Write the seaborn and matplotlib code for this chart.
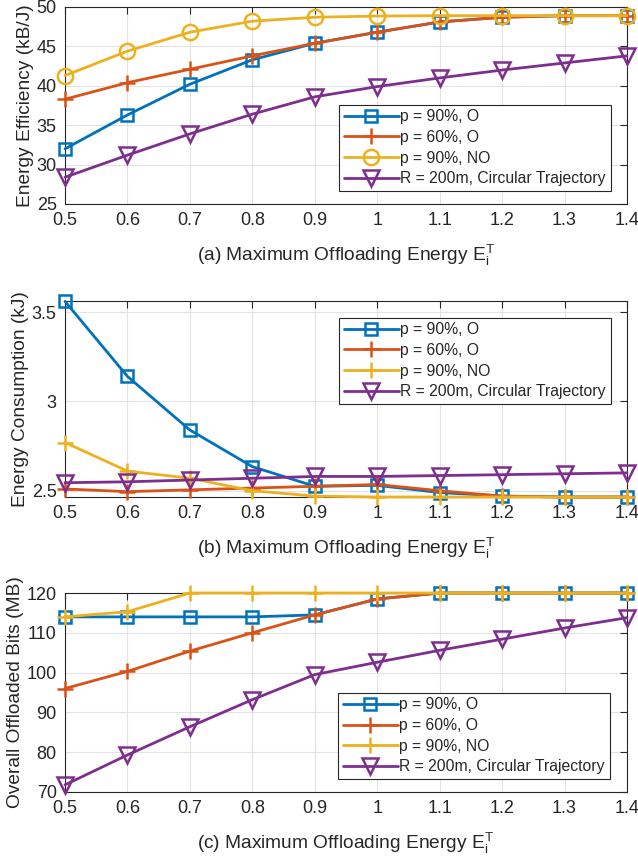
import numpy as np
import pandas as pd
import matplotlib
matplotlib.use("Agg")
import matplotlib.pyplot as plt
import seaborn as sns

x_vals = [0.5, 0.6, 0.7, 0.8, 0.9, 1.0, 1.1, 1.2, 1.3, 1.4]
labels = ["p = 90%, O", "p = 60%, O", "p = 90%, NO", "R = 200m, Circular Trajectory"]

# (a) Energy efficiency (kB/J)
eff_p90_o = [32.0, 36.3, 40.2, 43.3, 45.4, 46.8, 48.1, 48.7, 48.9, 48.9]
eff_p60_o = [38.3, 40.4, 42.1, 43.8, 45.4, 46.8, 48.1, 48.7, 48.9, 48.9]
eff_p90_no = [41.3, 44.4, 46.8, 48.2, 48.7, 48.85, 48.9, 48.9, 48.9, 48.9]
eff_circ = [28.4, 31.2, 33.9, 36.4, 38.6, 39.9, 41.0, 42.0, 42.9, 43.8]

# (b) Energy consumption (kJ)
con_p90_o = [3.56, 3.14, 2.84, 2.635, 2.525, 2.53, 2.49, 2.47, 2.465, 2.465]
con_p60_o = [2.51, 2.495, 2.505, 2.515, 2.525, 2.535, 2.50, 2.47, 2.465, 2.465]
con_p90_no = [2.77, 2.61, 2.57, 2.50, 2.47, 2.465, 2.465, 2.465, 2.465, 2.465]
con_circ = [2.545, 2.55, 2.56, 2.57, 2.58, 2.58, 2.585, 2.59, 2.595, 2.60]

# (c) Overall offloaded bits (MB)
bits_p90_o = [114.0, 114.0, 114.0, 114.0, 114.5, 118.5, 120.0, 120.0, 120.0, 120.0]
bits_p60_o = [96.0, 100.3, 105.4, 110.0, 114.5, 118.5, 120.0, 120.0, 120.0, 120.0]
bits_p90_no = [114.0, 115.3, 120.0, 120.0, 120.0, 120.0, 120.0, 120.0, 120.0, 120.0]
bits_circ = [71.8, 79.3, 86.4, 93.2, 99.5, 102.6, 105.6, 108.4, 111.2, 113.8]

sns.set_style("white")
plt.rcParams['font.family'] = ['Liberation Sans', 'DejaVu Sans']
plt.rcParams['mathtext.default'] = 'regular'

colors = ["#0072BD", "#D95319", "#EDB120", "#7E2F8E"]

fig = plt.figure(figsize=(6.38, 8.58), dpi=100)
W = 627 - 65
pos = [
    (65, 7, 204),
    (65, 301, 497),
    (65, 593, 792),
]
axes = []
for (l, t, b) in pos:
    axes.append(fig.add_axes([l / 638, 1 - b / 858, W / 638, (b - t) / 858]))

panels = [
    dict(data=[eff_p90_o, eff_p60_o, eff_p90_no, eff_circ], markers=["s", "+", "o", "v"],
         ylabel="Energy Efficiency (kB/J)", ylim=(25, 50), yticks=[25, 30, 35, 40, 45, 50],
         yticklabels=["25", "30", "35", "40", "45", "50"], tag="(a)", legloc=(0.488, 0.066)),
    dict(data=[con_p90_o, con_p60_o, con_p90_no, con_circ], markers=["s", "+", "+", "v"],
         ylabel="Energy Consumption (kJ)", ylim=(2.465, 3.562), yticks=[2.5, 3.0, 3.5],
         yticklabels=["2.5", "3", "3.5"], tag="(b)", legloc=(0.488, 0.475)),
    dict(data=[bits_p90_o, bits_p60_o, bits_p90_no, bits_circ], markers=["s", "+", "+", "v"],
         ylabel="Overall Offloaded Bits (MB)", ylim=(70, 120), yticks=[70, 80, 90, 100, 110, 120],
         yticklabels=["70", "80", "90", "100", "110", "120"], tag="(c)", legloc=(0.486, 0.065)),
]

msizes = {"s": 8, "+": 11, "o": 11, "v": 11}

for ax, p in zip(axes, panels):
    for i, (ys, m) in enumerate(zip(p["data"], p["markers"])):
        df = pd.DataFrame({"x": x_vals, "y": ys})
        sns.lineplot(data=df, x="x", y="y", ax=ax, color=colors[i], linewidth=2.0,
                     marker=m, markersize=msizes[m],
                     markerfacecolor="none" if m != "+" else colors[i],
                     markeredgecolor=colors[i], markeredgewidth=1.8,
                     label=labels[i], clip_on=False, zorder=3 + i)
    ax.set_xlim(0.5, 1.4)
    ax.set_ylim(*p["ylim"])
    ax.set_xticks(x_vals)
    ax.set_xticklabels(["0.5", "0.6", "0.7", "0.8", "0.9", "1", "1.1", "1.2", "1.3", "1.4"])
    ax.set_yticks(p["yticks"])
    ax.set_yticklabels(p["yticklabels"])
    ax.grid(True, color="#e3e3e3", linewidth=0.8)
    ax.set_axisbelow(True)
    for s in ax.spines.values():
        s.set_color("#262626")
        s.set_linewidth(0.8)
        s.set_visible(True)
    ax.tick_params(direction="in", length=5, width=0.8, color="#262626", labelsize=13,
                   labelcolor="#262626", top=True, right=True, pad=6)
    ax.set_ylabel(p["ylabel"], fontsize=13.8, color="#262626", labelpad=2)
    ax.set_xlabel(p["tag"] + " Maximum Offloading Energy $E_i^T$", fontsize=13.8,
                  color="#262626", labelpad=10)
    leg = ax.legend(loc="lower left", bbox_to_anchor=p["legloc"], fontsize=11.3,
                    frameon=True, fancybox=False, edgecolor="#262626", framealpha=1,
                    handlelength=3.5, handletextpad=0.1, borderpad=0.3, labelspacing=0.36,
                    borderaxespad=0)
    leg.get_frame().set_linewidth(0.8)

fig.savefig("out.png", dpi=100)
